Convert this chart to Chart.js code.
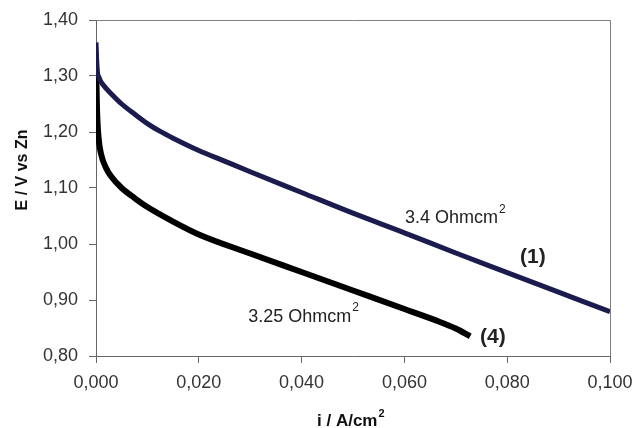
<!DOCTYPE html>
<html>
<head>
<meta charset="utf-8">
<script src="https://cdn.jsdelivr.net/npm/chart.js@4/dist/chart.umd.min.js"></script>
<style>
  html, body { margin: 0; padding: 0; background: #fff; }
  #wrap { width: 634px; height: 428px; }
</style>
</head>
<body>
<div id="wrap"><canvas id="c" width="634" height="428"></canvas></div>
<script>
// curve (1): current density (A/cm2) and potential (V vs Zn)
const curve1I = [0, 0.0002, 0.0006, 0.0015, 0.003, 0.005, 0.0075, 0.010, 0.0125, 0.015, 0.020, 0.025, 0.030, 0.040, 0.050, 0.060, 0.070, 0.080, 0.090, 0.100];
const curve1E = [1.36, 1.315, 1.297, 1.283, 1.268, 1.250, 1.232, 1.215, 1.201, 1.189, 1.167, 1.148, 1.129, 1.092, 1.055, 1.020, 0.984, 0.949, 0.914, 0.879];
// curve (4)
const curve4I = [0, 0.0002, 0.0005, 0.001, 0.002, 0.003, 0.005, 0.0075, 0.010, 0.015, 0.020, 0.030, 0.040, 0.050, 0.060, 0.066, 0.070, 0.0728];
const curve4E = [1.33, 1.24, 1.19, 1.16, 1.135, 1.12, 1.10, 1.082, 1.066, 1.040, 1.017, 0.983, 0.950, 0.917, 0.884, 0.864, 0.849, 0.835];

const xTicks = [0, 0.02, 0.04, 0.06, 0.08, 0.1];
const yTicks = [0.8, 0.9, 1.0, 1.1, 1.2, 1.3, 1.4];

// text labels placed in data units
const notes = [
  { i: 0.0601, e: 1.046, text: '3.4 Ohmcm', sup: '2', bold: false },
  { i: 0.0296, e: 0.870, text: '3.25 Ohmcm', sup: '2', bold: false },
  { i: 0.0825, e: 0.977, text: '(1)', sup: '', bold: true },
  { i: 0.0747, e: 0.834, text: '(4)', sup: '', bold: true }
];

const pts = (xs, ys) => xs.map((x, k) => ({ x, y: ys[k] }));
const fmt = (v, d) => v.toFixed(d).replace('.', ',');
const FONT = '"Liberation Sans", Arial, sans-serif';

const decor = {
  id: 'decor',
  afterDraw(chart) {
    const ctx = chart.ctx;
    const a = chart.chartArea;
    const xs = chart.scales.x, ys = chart.scales.y;
    ctx.save();
    // frame top / right
    ctx.strokeStyle = '#808080';
    ctx.lineWidth = 1;
    ctx.beginPath();
    ctx.moveTo(a.left, a.top + 0.5);
    ctx.lineTo(a.right + 0.5, a.top + 0.5);
    ctx.lineTo(a.right + 0.5, a.bottom);
    ctx.stroke();

    ctx.fillStyle = '#222';
    ctx.textBaseline = 'middle';
    ctx.textAlign = 'left';
    notes.forEach(n => {
      const px = xs.getPixelForValue(n.i);
      const py = ys.getPixelForValue(n.e);
      ctx.font = (n.bold ? 'bold 21px ' : '18px ') + FONT;
      ctx.fillText(n.text, px, py);
      if (n.sup) {
        const w = ctx.measureText(n.text).width;
        ctx.font = '12px ' + FONT;
        ctx.fillText(n.sup, px + w + 1, py - 9);
      }
    });

    // x axis title
    ctx.fillStyle = '#111';
    ctx.textBaseline = 'alphabetic';
    ctx.font = 'bold 17px ' + FONT;
    const xt = 'i / A/cm';
    const xw = ctx.measureText(xt).width;
    const xl = 317;
    ctx.fillText(xt, xl, 426);
    ctx.font = 'bold 11px ' + FONT;
    ctx.fillText('2', xl + xw + 1, 417);

    // y axis title
    ctx.translate(27, 170);
    ctx.rotate(-Math.PI / 2);
    ctx.textAlign = 'center';
    ctx.font = 'bold 16px ' + FONT;
    ctx.fillText('E / V vs Zn', 0, 0);
    ctx.restore();
  }
};

new Chart(document.getElementById('c'), {
  type: 'line',
  data: {
    datasets: [
      {
        label: '(1)',
        data: pts(curve1I, curve1E),
        borderColor: '#1b1b4e',
        borderWidth: 5,
        pointRadius: 0,
        cubicInterpolationMode: 'monotone',
        fill: false
      },
      {
        label: '(4)',
        data: pts(curve4I, curve4E),
        borderColor: '#000',
        borderWidth: 6,
        pointRadius: 0,
        cubicInterpolationMode: 'monotone',
        fill: false
      }
    ]
  },
  options: {
    responsive: false,
    animation: false,
    devicePixelRatio: 1,
    layout: { padding: { left: 0, right: 24, top: 20, bottom: 0 } },
    plugins: { legend: { display: false }, tooltip: { enabled: false } },
    scales: {
      x: {
        type: 'linear',
        min: 0, max: 0.1,
        afterBuildTicks: s => { s.ticks = xTicks.map(v => ({ value: v })); },
        afterFit: s => { s.height = 72; s.paddingLeft = 0; s.paddingRight = 0; },
        border: { display: true, color: '#666', width: 1 },
        grid: { drawOnChartArea: false, drawTicks: true, tickLength: 7, color: '#666' },
        ticks: {
          padding: 9,
          color: '#333',
          font: { family: FONT, size: 18 },
          maxRotation: 0,
          callback: v => fmt(v, 3)
        }
      },
      y: {
        type: 'linear',
        min: 0.8, max: 1.4,
        afterBuildTicks: s => { s.ticks = yTicks.map(v => ({ value: v })); },
        afterFit: s => { s.width = 96; s.paddingTop = 0; s.paddingBottom = 0; },
        border: { display: true, color: '#666', width: 1 },
        grid: { drawOnChartArea: false, drawTicks: true, tickLength: 7, color: '#666' },
        ticks: {
          padding: 11,
          color: '#333',
          font: { family: FONT, size: 18 },
          callback: v => fmt(v, 2)
        }
      }
    }
  },
  plugins: [decor]
});
</script>
</body>
</html>
